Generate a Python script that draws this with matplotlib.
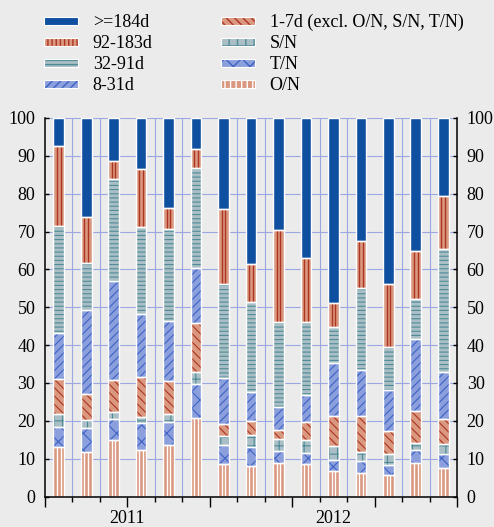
import matplotlib
matplotlib.use("Agg")
import matplotlib.pyplot as plt
from matplotlib.patches import Patch
from matplotlib.legend_handler import HandlerTuple
from matplotlib.transforms import blended_transform_factory
import numpy as np

plt.rcParams['font.family'] = ['Liberation Serif', 'DejaVu Serif']

# Monthly maturity breakdown (% of total), bottom of stack first
years = ["2011", "2012"]
year_months = [6, 9]

on_vals    = [13.2, 11.7, 14.8, 12.4, 13.5, 20.8, 8.5, 8.1, 8.9, 8.6, 6.8, 6.3, 5.7, 8.9, 7.5]
tn_vals    = [5.2, 6.3, 5.6, 7.0, 6.3, 9.0, 5.2, 5.1, 3.2, 2.8, 2.9, 3.2, 2.7, 3.4, 3.8]
sn_vals    = [3.5, 2.3, 1.9, 1.6, 2.1, 3.0, 2.2, 3.1, 3.2, 3.6, 3.7, 2.2, 2.8, 1.8, 2.6]
d1_7_vals  = [9.2, 6.9, 8.4, 10.7, 8.7, 13.1, 3.3, 3.6, 2.2, 4.8, 7.9, 9.7, 6.1, 8.5, 6.5]
d8_31_vals = [12.1, 22.2, 26.2, 16.5, 15.8, 14.4, 12.1, 7.7, 6.2, 7.1, 14.1, 12.1, 10.8, 19.1, 12.6]
d32_91_vals = [28.2, 12.4, 26.9, 23.0, 24.3, 26.5, 24.9, 23.9, 22.4, 19.3, 9.3, 21.7, 11.5, 10.6, 32.4]
d92_183_vals = [21.3, 12.1, 4.8, 15.4, 5.4, 5.1, 19.8, 10.0, 24.2, 16.7, 6.4, 12.2, 16.5, 12.5, 13.9]
d184_vals  = [7.3, 26.1, 11.4, 13.4, 23.9, 8.1, 24.0, 38.5, 29.7, 37.1, 48.9, 32.6, 43.9, 35.2, 20.7]

series = [
    ("O/N", on_vals),
    ("T/N", tn_vals),
    ("S/N", sn_vals),
    ("1-7d (excl. O/N, S/N, T/N)", d1_7_vals),
    ("8-31d", d8_31_vals),
    ("32-91d", d32_91_vals),
    ("92-183d", d92_183_vals),
    (">=184d", d184_vals),
]

BG = "#ebebeb"
GRID = "#9ca7e2"
SALMON = "#d9987f"
RED = "#ad3423"
TEAL_FILL = "#a9bfc5"
TEAL = "#4f8b97"
BLUE_FILL = "#8c9fdd"
BLUE_LINE = "#3d63c4"
NAVY = "#0f4fa0"

styles = {
    "O/N": dict(face=SALMON, hatch=None, hc=SALMON, stripe="white", legend_hatch="|||"),
    "T/N": dict(face=BLUE_FILL, hatch="xx", hc=BLUE_LINE),
    "S/N": dict(face=TEAL_FILL, hatch="++", hc=TEAL),
    "1-7d (excl. O/N, S/N, T/N)": dict(face=SALMON, hatch="\\\\\\\\", hc=RED),
    "8-31d": dict(face=BLUE_FILL, hatch="////", hc=BLUE_LINE),
    "32-91d": dict(face=TEAL_FILL, hatch="----", hc=TEAL),
    "92-183d": dict(face=SALMON, hatch=None, hc=RED, stripe=RED, legend_hatch="||||"),
    ">=184d": dict(face=NAVY, hatch=None, hc=NAVY),
}

W, H = 494, 527
fig = plt.figure(figsize=(W / 100, H / 100), dpi=100, facecolor=BG)
ax = fig.add_axes([45 / W, 1 - 496.5 / H, 412 / W, 378.5 / H], facecolor=BG)

n = len(on_vals)
x = np.arange(n)
width = 0.39
bottom = np.zeros(n)

for name, vals in series:
    st = styles[name]
    vals = np.asarray(vals, dtype=float)
    bars = ax.bar(x, vals, width, bottom=bottom, color=st["face"],
                  edgecolor=st["hc"], linewidth=0, hatch=st["hatch"], zorder=2)
    if st["hatch"]:
        for b in bars:
            if hasattr(b, "set_hatch_linewidth"):
                b.set_hatch_linewidth(0.8)
    if st.get("stripe"):
        for off in (-width / 6, width / 6):
            ax.vlines(x + off, bottom, bottom + vals, color=st["stripe"],
                      linewidth=1.0, zorder=3)
    ax.bar(x, vals, width, bottom=bottom, fill=False, edgecolor="white",
           linewidth=1.0, zorder=4)
    bottom += vals

ax.set_xlim(-0.5, n - 0.5)
ax.set_ylim(0, 100)

# Axes styling
ax.spines["top"].set_visible(False)
for s in ("left", "right", "bottom"):
    ax.spines[s].set_color("black")
    ax.spines[s].set_linewidth(1.1)
ax.spines["bottom"].set_zorder(5)

ax.set_yticks(np.arange(0, 101, 10))
ax.tick_params(axis="y", direction="in", length=3, width=1, left=True, right=True,
               labelleft=True, labelright=True, labelsize=13, pad=7, colors="black")

bounds = np.arange(-0.5, n, 1.0)
ax.set_xticks(bounds[::3])
ax.set_xticks(bounds, minor=True)
ax.tick_params(axis="x", which="major", direction="out", length=7, width=1,
               labelbottom=False)
ax.tick_params(axis="x", which="minor", direction="out", length=3.5, width=1)

ax.grid(axis="y", which="major", color=GRID, linewidth=0.8, zorder=0)
ax.grid(axis="x", which="minor", color=GRID, linewidth=0.8, zorder=0)
ax.set_axisbelow(True)

# Year labels under each span of months
tr = blended_transform_factory(ax.transData, ax.transAxes)
start = -0.5
for yr, cnt in zip(years, year_months):
    ax.annotate(yr, xy=(start + cnt / 2, 0), xycoords=tr, xytext=(0, -15.5),
                textcoords="offset points", ha="center", va="center", fontsize=13)
    start += cnt

# Legend, two columns, longest maturities first
order = [">=184d", "92-183d", "32-91d", "8-31d",
         "1-7d (excl. O/N, S/N, T/N)", "S/N", "T/N", "O/N"]
handles = []
for name in order:
    st = styles[name]
    h = Patch(facecolor=st["face"], edgecolor=st["hc"] if name != "O/N" else "white",
              hatch=st.get("legend_hatch", st["hatch"]), linewidth=0)
    if hasattr(h, "set_hatch_linewidth"):
        h.set_hatch_linewidth(0.8)
    outline = Patch(fill=False, edgecolor="white", linewidth=0.8)
    handles.append((h, outline))

fig.legend(handles=handles, labels=order, loc="upper left",
           bbox_to_anchor=(44 / W, 1 - 14 / H),
           ncol=2, frameon=False, fontsize=13, borderpad=0, borderaxespad=0,
           handlelength=1.9, handleheight=0.3, handletextpad=0.8,
           labelspacing=0.22, columnspacing=3.78,
           handler_map={tuple: HandlerTuple(ndivide=1, pad=0)})

fig.savefig("out.png", dpi=100, facecolor=BG)
